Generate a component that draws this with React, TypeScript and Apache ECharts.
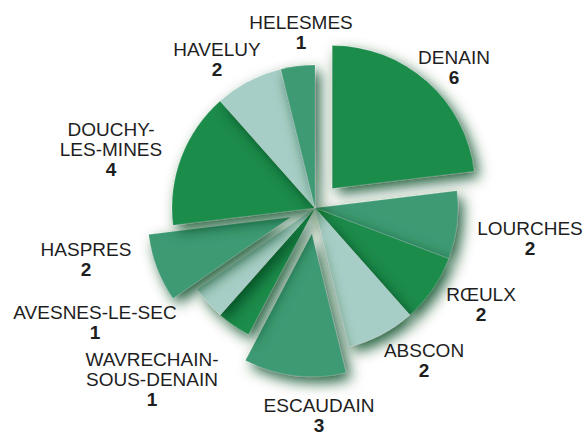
import React, { useEffect, useRef } from "react";
import * as echarts from "echarts";

// Communes, clockwise from the top
const communes = [
  "DENAIN",
  "LOURCHES",
  "RŒULX",
  "ABSCON",
  "ESCAUDAIN",
  "WAVRECHAIN-SOUS-DENAIN",
  "AVESNES-LE-SEC",
  "HASPRES",
  "DOUCHY-LES-MINES",
  "HAVELUY",
  "HELESMES",
];
const counts = [6, 2, 2, 2, 3, 1, 1, 2, 4, 2, 1];
const exploded = ["DENAIN", "ESCAUDAIN", "HASPRES"];

// Label text, broken into lines as in the reference
const labelLines: Record<string, string[]> = {
  "WAVRECHAIN-SOUS-DENAIN": ["WAVRECHAIN-", "SOUS-DENAIN"],
  "DOUCHY-LES-MINES": ["DOUCHY-", "LES-MINES"],
};

// Shade per slice (styles, kept apart from the data)
const DARK = "#1c8c4c";
const MID = "#3e9a73";
const LIGHT = "#a7cec6";
const shades = [DARK, MID, DARK, LIGHT, MID, DARK, LIGHT, MID, DARK, LIGHT, MID];

// Label block centres (px)
const labelPos: [number, number][] = [
  [454, 67],
  [530, 238],
  [481, 304],
  [424, 360],
  [319, 415],
  [152, 379],
  [95, 322],
  [86, 259],
  [111, 149],
  [217, 59],
  [301, 32],
];

const FONT = "Liberation Sans, Arial, sans-serif";

export default function App() {
  const ref = useRef<HTMLDivElement>(null);
  useEffect(() => {
    if (!ref.current) return;
    const chart = echarts.init(ref.current, undefined, { renderer: "svg" });
    const sliceData = communes.map((name, i) => ({
      name,
      value: counts[i],
      selected: exploded.includes(name),
      itemStyle: { color: shades[i] },
    }));
    const labelData = communes.map((name, i) => ({ name, value: counts[i] }));
    const common = {
      type: "pie",
      center: [315, 208],
      radius: 143,
      startAngle: 90,
      clockwise: true,
      avoidLabelOverlap: false,
      silent: true,
      emphasis: { disabled: true },
      labelLine: { show: false },
    };
    chart.setOption({
      animation: false,
      backgroundColor: "#ffffff",
      series: [
        {
          ...common,
          selectedMode: "multiple",
          selectedOffset: 26,
          itemStyle: {
            shadowBlur: 14,
            shadowColor: "rgba(6,70,30,0.85)",
            shadowOffsetX: 5,
            shadowOffsetY: 6,
            borderColor: "rgba(255,255,255,0.25)",
            borderWidth: 0.6,
          },
          label: { show: false },
          data: sliceData,
        },
        {
          ...common,
          selectedMode: false,
          itemStyle: { color: "rgba(0,0,0,0)", borderWidth: 0 },
          label: {
            show: true,
            position: "inside",
            overflow: "none",
            formatter: (p: any) => {
              const lines = labelLines[p.name] || [p.name];
              return lines.map((l) => `{n|${l}}`).join("\n") + `\n{v|${p.value}}`;
            },
            rich: {
              n: {
                fontFamily: FONT,
                fontSize: 19,
                color: "#1e1e1e",
                lineHeight: 20.5,
                align: "center",
              },
              v: {
                fontFamily: FONT,
                fontSize: 19,
                fontWeight: "bold",
                color: "#1e1e1e",
                lineHeight: 19,
                align: "center",
              },
            },
          },
          labelLayout: (params: any) => {
            const pos = labelPos[params.dataIndex];
            return {
              x: pos[0],
              y: pos[1],
              align: "center",
              verticalAlign: "middle",
              hideOverlap: false,
            };
          },
          data: labelData,
        },
      ],
    });
    return () => chart.dispose();
  }, []);
  return (
    <div
      ref={ref}
      style={{ position: "absolute", left: 0, top: 0, width: 585, height: 436 }}
    />
  );
}
